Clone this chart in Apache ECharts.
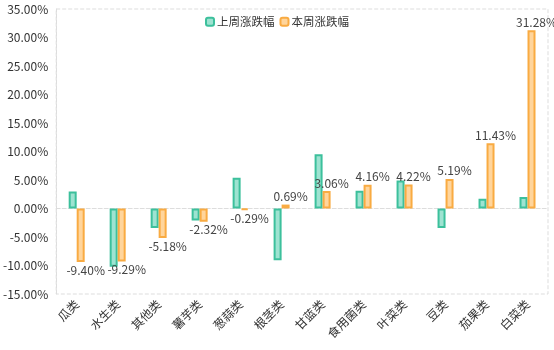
<!DOCTYPE html>
<html lang="zh">
<head>
  <meta charset="UTF-8">
  <title>涨跌幅</title>
  <script src="https://cdn.jsdelivr.net/npm/echarts@6/dist/echarts.min.js"></script>
  <style>
    html, body { margin: 0; padding: 0; background: #fff; }
    #main { width: 554px; height: 350px; }
  </style>
</head>
<body>
<div id="main"></div>
<script>
  var categories = ['瓜类', '水生类', '其他类', '薯芋类', '葱蒜类', '根茎类', '甘蓝类', '食用菌类', '叶菜类', '豆类', '茄果类', '白菜类'];
  var lastWeek = [3.0, -10.2, -3.4, -2.1, 5.4, -9.1, 9.5, 3.1, 4.9, -3.4, 1.7, 2.0];
  var thisWeek = [-9.40, -9.29, -5.18, -2.32, -0.29, 0.69, 3.06, 4.16, 4.22, 5.19, 11.43, 31.28];

  var font = '"Noto Sans CJK SC", "Noto Sans", sans-serif';
  var myChart = echarts.init(document.getElementById('main'));

  // 本周数据：正值标签在上，负值在下
  var thisWeekData = thisWeek.map(function (v) {
    return {
      value: v,
      label: {position: v >= 0 ? 'top' : 'bottom'}
    };
  });

  myChart.setOption({
    backgroundColor: '#fff',
    animation: false,
    textStyle: {fontFamily: font},
    legend: {
      top: 11,
      left: 'center',
      itemWidth: 8,
      itemHeight: 8,
      itemGap: 5,
      textStyle: {fontSize: 11.5, color: '#333', fontFamily: font, padding: [0, 0, 0, -2]},
      data: ['上周涨跌幅', '本周涨跌幅']
    },
    grid: {
      left: 54,
      right: 6,
      top: 9,
      bottom: 56,
      show: true,
      borderColor: '#ddd',
      borderWidth: 1,
      borderType: 'dashed'
    },
    xAxis: {
      type: 'category',
      data: categories,
      axisLine: {show: true, lineStyle: {color: '#ddd', type: 'dashed'}},
      axisTick: {show: false},
      axisLabel: {
        rotate: 45,
        interval: 0,
        color: '#333',
        fontSize: 12,
        margin: 8,
        fontFamily: font
      }
    },
    yAxis: {
      type: 'value',
      min: -15,
      max: 35,
      interval: 5,
      axisLine: {show: true, lineStyle: {color: '#ddd', type: 'dashed'}},
      axisTick: {show: false},
      splitLine: {show: false},
      axisLabel: {
        color: '#333',
        fontSize: 12,
        margin: 8,
        fontFamily: font,
        formatter: function (v) { return v.toFixed(2) + '%'; }
      }
    },
    series: [
      {
        name: '上周涨跌幅',
        type: 'bar',
        data: lastWeek,
        barWidth: 8,
        barGap: '0%',
        itemStyle: {color: '#9ee3d1', borderColor: '#3cc09c', borderWidth: 2}
      },
      {
        name: '本周涨跌幅',
        type: 'bar',
        data: thisWeekData,
        barWidth: 8,
        itemStyle: {color: '#ffd59c', borderColor: '#f9ab42', borderWidth: 2},
        label: {
          show: true,
          distance: 2,
          offset: [5, 0],
          color: '#444',
          fontSize: 12,
          fontFamily: font,
          formatter: function (p) { return p.value.toFixed(2) + '%'; }
        }
      }
    ]
  });
</script>
</body>
</html>
